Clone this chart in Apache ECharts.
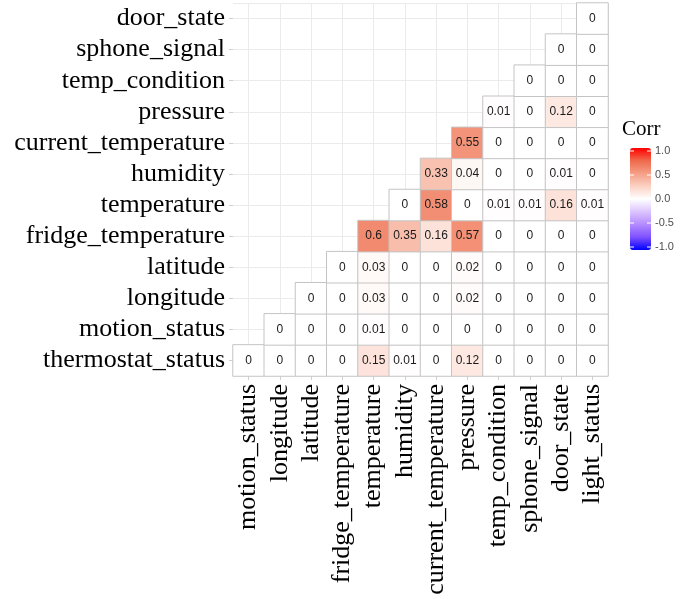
<!DOCTYPE html>
<html>
<head>
<meta charset="utf-8">
<script src="https://cdn.jsdelivr.net/npm/echarts@6/dist/echarts.min.js"></script>
<style>
  html, body { margin: 0; padding: 0; background: #fff; }
  #chart { width: 699px; height: 599px; }
</style>
</head>
<body>
<div id="chart"></div>
<script>
// variables along x (left to right) and y (bottom to top)
const xLabels = ['motion_status', 'longitude', 'latitude', 'fridge_temperature', 'temperature',
  'humidity', 'current_temperature', 'pressure', 'temp_condition', 'sphone_signal', 'door_state', 'light_status'];
const yLabels = ['thermostat_status', 'motion_status', 'longitude', 'latitude', 'fridge_temperature',
  'temperature', 'humidity', 'current_temperature', 'pressure', 'temp_condition', 'sphone_signal', 'door_state'];

// each row starts at the x column with the same index as the row
const thermostatRow = [0, 0, 0, 0, 0.15, 0.01, 0, 0.12, 0, 0, 0, 0];
const motionRow = [0, 0, 0, 0.01, 0, 0, 0, 0, 0, 0, 0];
const longitudeRow = [0, 0, 0.03, 0, 0, 0.02, 0, 0, 0, 0];
const latitudeRow = [0, 0.03, 0, 0, 0.02, 0, 0, 0, 0];
const fridgeRow = [0.6, 0.35, 0.16, 0.57, 0, 0, 0, 0];
const temperatureRow = [0, 0.58, 0, 0.01, 0.01, 0.16, 0.01];
const humidityRow = [0.33, 0.04, 0, 0, 0.01, 0];
const currentTempRow = [0.55, 0, 0, 0, 0];
const pressureRow = [0.01, 0, 0.12, 0];
const tempConditionRow = [0, 0, 0];
const sphoneRow = [0, 0];
const doorRow = [0];

const rows = [thermostatRow, motionRow, longitudeRow, latitudeRow, fridgeRow, temperatureRow,
  humidityRow, currentTempRow, pressureRow, tempConditionRow, sphoneRow, doorRow];

// legend breaks and blue-white-red scale
const legendBreaks = [1.0, 0.5, 0.0, -0.5, -1.0];
const corrColors = ['#0000ff', '#7e51ff', '#b38bff', '#dcc4ff', '#ffffff',
  '#fbd1c3', '#f49f86', '#ef6a4c', '#ff0000'];

let cells = [];
rows.forEach((r, j) => {
  r.forEach((v, k) => cells.push([j + k, j, v]));
});

// hidden 24-slot axes give grid lines through the centres of the cells
const halfSlots = Array.from({ length: 24 }, (_, i) => i);

const serif = '"Liberation Serif", "DejaVu Serif", serif';
const sans = '"Liberation Sans", Arial, sans-serif';

// colour bar geometry
const barLeft = 630, barTop = 148, barW = 21, barH = 102;
const breakY = v => barTop + 3 + (1 - v) / 2 * (barH - 6);

let graphics = [{
  type: 'text', left: 622, top: 119,
  style: { text: 'Corr', font: '21px ' + serif, fill: '#000' }
}];
legendBreaks.forEach(v => {
  graphics.push({
    type: 'text', x: 655, y: breakY(v),
    style: { text: v.toFixed(1), font: '11px ' + sans, fill: '#4d4d4d', textVerticalAlign: 'middle' }
  });
  graphics.push({
    type: 'line', z: 100,
    shape: { x1: barLeft, y1: breakY(v), x2: barLeft + 4, y2: breakY(v) },
    style: { stroke: '#fff', lineWidth: 1 }
  });
  graphics.push({
    type: 'line', z: 100,
    shape: { x1: barLeft + barW - 4, y1: breakY(v), x2: barLeft + barW, y2: breakY(v) },
    style: { stroke: '#fff', lineWidth: 1 }
  });
});

let myChart = echarts.init(document.getElementById('chart'));
let option = {
  animation: false,
  backgroundColor: '#fff',
  grid: { left: 233, right: 91, top: 3, bottom: 223 },
  xAxis: [{
    type: 'category', data: xLabels,
    axisLine: { show: false },
    axisTick: { show: true, alignWithLabel: true, interval: 0, length: 4, lineStyle: { color: '#d0d0d0' } },
    axisLabel: { rotate: 90, interval: 0, hideOverlap: false, margin: 8, fontFamily: serif, fontSize: 26, color: '#000' },
    splitLine: { show: false }
  }, {
    type: 'category', data: halfSlots, position: 'bottom',
    axisLine: { show: false }, axisTick: { show: false }, axisLabel: { show: false },
    splitLine: { show: true, interval: i => i % 2 === 1, lineStyle: { color: '#ebebeb', width: 1 } }
  }],
  yAxis: [{
    type: 'category', data: yLabels,
    axisLine: { show: false },
    axisTick: { show: true, alignWithLabel: true, interval: 0, length: 4, lineStyle: { color: '#d0d0d0' } },
    axisLabel: { interval: 0, hideOverlap: false, margin: 8, fontFamily: serif, fontSize: 26, color: '#000' },
    splitLine: { show: false }
  }, {
    type: 'category', data: halfSlots, position: 'left',
    axisLine: { show: false }, axisTick: { show: false }, axisLabel: { show: false },
    splitLine: { show: true, interval: i => i % 2 === 1, lineStyle: { color: '#ebebeb', width: 1 } }
  }],
  visualMap: {
    type: 'continuous', min: -1, max: 1, dimension: 2,
    seriesIndex: 0,
    left: barLeft, top: barTop, itemWidth: barW, itemHeight: barH,
    padding: 0, text: null, showLabel: false, calculable: false, hoverLink: false,
    inRange: { color: corrColors }
  },
  graphic: graphics,
  series: [{
    type: 'heatmap',
    xAxisIndex: 0, yAxisIndex: 0,
    data: cells,
    itemStyle: { borderColor: '#c4c4c4', borderWidth: 1 },
    label: {
      show: true, fontFamily: sans, fontSize: 12, color: '#1a1a1a',
      formatter: p => String(p.value[2])
    },
    emphasis: { disabled: true }
  }]
};
myChart.setOption(option);
window.addEventListener('resize', function () {
  myChart.resize();
});
</script>
</body>
</html>
